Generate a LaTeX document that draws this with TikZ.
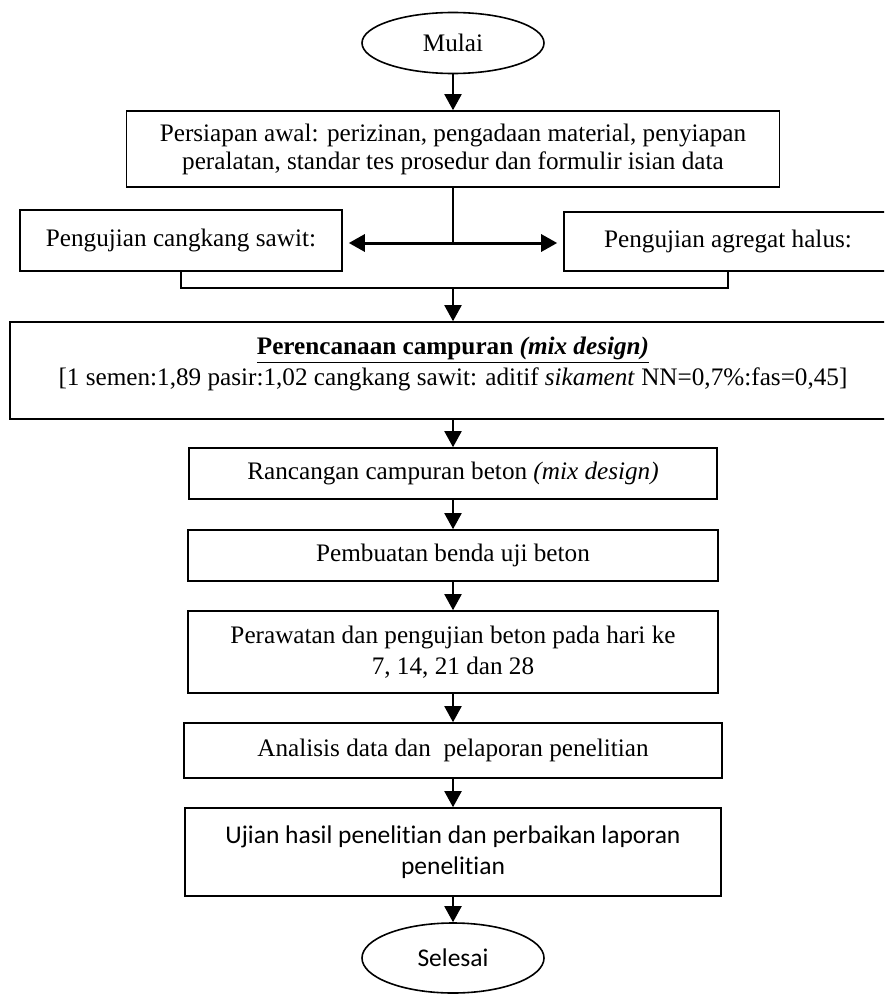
\documentclass[tikz,border=0pt]{standalone}
\usepackage{fontspec}
\setmainfont{Liberation Serif}
\newfontfamily\calibri[Ligatures=NoCommon]{Carlito}
\usetikzlibrary{shapes.geometric,arrows.meta}
\tikzset{
  box/.style={draw, line width=0.8pt, align=center, inner sep=2pt,
    font=\fontsize{12.6}{15.5}\selectfont},
  oval/.style={draw, ellipse, line width=0.8pt, inner sep=0pt,
    minimum width=91pt, font=\fontsize{12.6}{15.5}\selectfont},
  flow/.style={-{Triangle[length=8pt,width=8.5pt]}, line width=1pt},
}
\begin{document}
\begin{tikzpicture}[x=0.5pt, y=-0.5pt]
      \clip (0,0) rectangle (884,995);
      \node [oval, minimum height=30.5pt] (mulai) at (453,43) {Mulai};
      \node [box, minimum width=326.5pt, minimum height=38pt, %
             font=\fontsize{12.6}{14}\selectfont] (persiapan) at (453,149)
            {Persiapan awal: perizinan, pengadaan material, penyiapan\\
             peralatan, standar tes prosedur dan formulir isian data};
      \node [box, minimum width=161pt, minimum height=30.5pt] (cangkang)
            at (181,240.5) {Pengujian cangkang sawit:};
      \node [box, minimum width=164pt, minimum height=29.5pt] (agregat)
            at (728,241.5) {Pengujian agregat halus:};
      \node [box, minimum width=443pt, minimum height=48.5pt, text depth=9.5pt] %
            (perencanaan) at (453,370.5)
            {\underline{\textbf{Perencanaan campuran \textit{(mix design)}}}\\
             {[}1 semen:1,89 pasir:1,02 cangkang sawit: aditif \textit{sikament} NN=0,7\%:fas=0,45]};
      \node [box, minimum width=264pt, minimum height=25.5pt] (rancangan)
            at (453,473.5) {Rancangan campuran beton \textit{(mix design)}};
      \node [box, minimum width=265pt, minimum height=25.5pt] (pembuatan)
            at (453,555.5) {Pembuatan benda uji beton};
      \node [box, minimum width=265pt, minimum height=41pt] (perawatan)
            at (453,652) {Perawatan dan pengujian beton pada hari ke\\ 7, 14, 21 dan 28};
      \node [box, minimum width=269pt, minimum height=27.5pt] (analisis)
            at (453,750.5) {Analisis data dan\ \ pelaporan penelitian};
      \node [box, minimum width=268pt, minimum height=44pt, %
             font=\calibri\fontsize{12.75}{15.5}\selectfont] (ujian) at (453,852)
            {Ujian hasil penelitian dan perbaikan laporan\\ penelitian};
      \node [oval, minimum height=35pt, font=\calibri\fontsize{12.75}{15.5}\selectfont] %
            (selesai) at (453,958) {Selesai};
      \coordinate (split) at (453,243);
      \coordinate (join) at (453,288);
      \draw [flow] (mulai) -- (persiapan);
      \draw [line width=0.6pt] (persiapan) -- (split);
      \draw [{Triangle[length=8pt,width=8.5pt]}-{Triangle[length=8pt,width=8.5pt]}, %
             line width=1.5pt, shorten <=3pt, shorten >=3pt]
            (cangkang.east |- split) -- (agregat.west |- split);
      \draw [line width=0.8pt] (cangkang.south) |- (join) -| (agregat.south);
      \draw [flow] (join) -- (perencanaan);
      \draw [flow] (perencanaan) -- (rancangan);
      \draw [flow] (rancangan) -- (pembuatan);
      \draw [flow] (pembuatan) -- (perawatan);
      \draw [flow] (perawatan) -- (analisis);
      \draw [flow] (analisis) -- (ujian);
      \draw [flow] (ujian) -- (selesai);
    \end{tikzpicture}
\end{document}
